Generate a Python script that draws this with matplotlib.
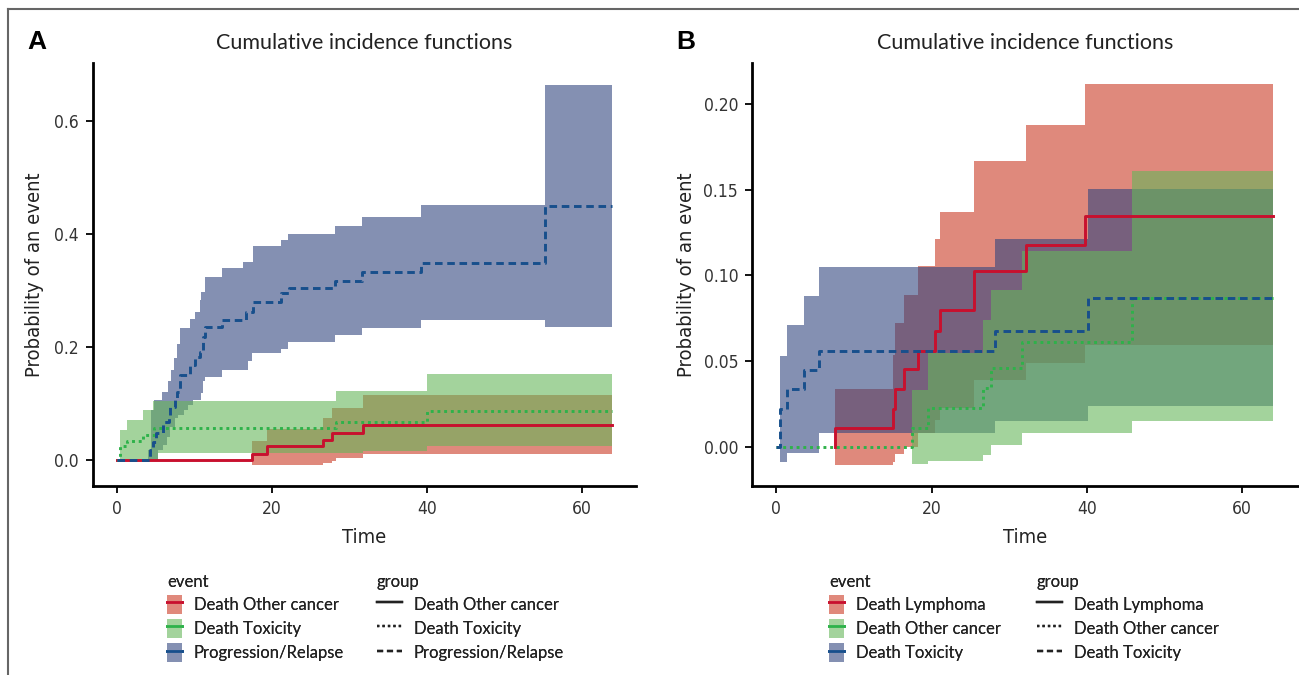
import numpy as np
import matplotlib.pyplot as plt
from matplotlib.patches import Patch
from matplotlib.lines import Line2D

# ---- panel A : Death Other cancer / Death Toxicity / Progression-Relapse ----
a_red_t = [0, 17.4, 19.4, 26.6, 27.7, 31.7, 63.9]
a_red_p = [0, 0.011, 0.024, 0.035, 0.048, 0.062, 0.062]
a_red_band_t = [17.4, 19.4, 26.6, 27.7, 28.3, 31.7, 63.9]
a_red_lo = [-0.009, -0.008, -0.006, -0.002, 0.004, 0.010, 0.010]
a_red_hi = [0.034, 0.054, 0.074, 0.092, 0.092, 0.115, 0.115]

a_grn_t = [0, 0.4, 1.25, 3.4, 4.8, 28.3, 40.0, 63.9]
a_grn_p = [0, 0.024, 0.034, 0.044, 0.056, 0.068, 0.087, 0.087]
a_grn_band_t = [0.4, 1.25, 3.4, 4.7, 5.3, 28.3, 31.7, 40.0, 63.9]
a_grn_lo = [0, 0, 0, 0, 0.012, 0.012, 0.016, 0.025, 0.025]
a_grn_hi = [0.053, 0.071, 0.088, 0.105, 0.105, 0.122, 0.122, 0.153, 0.153]

a_blu_t = [0, 4.3, 4.6, 5.0, 6.0, 6.7, 6.8, 7.5, 7.7, 8.1, 9.4, 10.1, 10.7,
           11.1, 11.4, 13.5, 16.7, 17.6, 21.2, 22.2, 28.2, 31.6, 39.2, 55.2, 63.9]
a_blu_p = [0, 0.018, 0.032, 0.047, 0.068, 0.077, 0.094, 0.106, 0.121, 0.150, 0.168, 0.183, 0.192,
           0.218, 0.235, 0.248, 0.262, 0.280, 0.295, 0.304, 0.316, 0.332, 0.348, 0.450, 0.450]
a_blu_hi_t = [4.0, 4.35, 4.8, 5.8, 6.6, 7.0, 7.3, 7.7, 8.1, 9.4, 10.1, 10.7, 10.9, 11.4,
              13.5, 16.3, 17.6, 21.2, 22.1, 28.2, 31.6, 39.2, 55.2, 63.9]
a_blu_hi = [0.018, 0.088, 0.106, 0.121, 0.139, 0.160, 0.180, 0.206, 0.233, 0.249, 0.262, 0.283, 0.298, 0.324,
            0.339, 0.350, 0.378, 0.389, 0.400, 0.415, 0.430, 0.452, 0.663, 0.663]
a_blu_lo_t = [4.0, 5.3, 6.0, 6.4, 6.8, 7.5, 7.9, 8.6, 9.2, 9.8, 10.9, 11.1, 11.4, 13.5,
              16.9, 17.4, 21.2, 22.1, 28.2, 31.6, 39.2, 55.2, 63.9]
a_blu_lo = [0, 0.018, 0.027, 0.041, 0.059, 0.074, 0.080, 0.088, 0.097, 0.106, 0.118, 0.139, 0.147, 0.159,
            0.176, 0.189, 0.197, 0.209, 0.221, 0.233, 0.247, 0.235, 0.235]

a_events = ['Death Other cancer', 'Death Toxicity', 'Progression/Relapse']

# ---- panel B : Death Lymphoma / Death Other cancer / Death Toxicity ----
b_red_t = [7.6, 7.6, 15.0, 15.3, 16.4, 18.3, 20.4, 21.1, 25.5, 32.2, 39.7, 63.9]
b_red_p = [0, 0.0107, 0.0218, 0.0335, 0.0454, 0.0559, 0.0677, 0.0798, 0.1025, 0.1177, 0.1348, 0.1348]
b_red_band_t = [7.6, 15.0, 15.3, 16.4, 18.3, 20.4, 21.1, 25.5, 32.2, 39.7, 63.9]
b_red_lo = [-0.011, -0.009, -0.0043, 0.0, 0.0078, 0.0156, 0.0224, 0.039, 0.0487, 0.0593, 0.0593]
b_red_hi = [0.0335, 0.0535, 0.072, 0.0887, 0.1056, 0.1212, 0.1368, 0.1667, 0.1875, 0.2115, 0.2115]

b_grn_t = [0, 17.5, 19.6, 26.6, 27.7, 31.6, 45.8, 63.9]
b_grn_p = [0, 0.0107, 0.0224, 0.034, 0.046, 0.061, 0.0866, 0.0866]
b_grn_band_t = [17.5, 19.5, 26.6, 27.7, 31.6, 45.8, 63.9]
b_grn_lo = [-0.010, -0.0083, -0.0049, 0.001, 0.0078, 0.015, 0.015]
b_grn_hi = [0.0331, 0.0545, 0.074, 0.0914, 0.1144, 0.161, 0.161]

b_blu_t = [0, 0.5, 1.4, 3.6, 5.5, 28.2, 40.2, 63.9]
b_blu_p = [0, 0.0218, 0.0335, 0.0447, 0.0558, 0.0677, 0.0866, 0.0866]
b_blu_band_t = [0.5, 1.4, 3.6, 5.5, 28.2, 40.2, 63.9]
b_blu_lo = [-0.009, -0.004, -0.004, 0.0078, 0.0152, 0.0237, 0.0237]
b_blu_hi = [0.0529, 0.071, 0.0881, 0.1047, 0.121, 0.1504, 0.1504]

b_events = ['Death Lymphoma', 'Death Other cancer', 'Death Toxicity']

# colours
line_cols = ['#c8102e', '#2eb24a', '#174f8c']
fill_cols = ['#cb3a25', '#66b65a', '#32467f']
key_cols = ['#e0897c', '#a3d39c', '#8490b2']   # how the fills look on white
styles = ['-', (0, (1, 1.3)), (0, (2.6, 1.6))]

plt.rcParams['font.family'] = ['Lato', 'DejaVu Sans']
cond = dict(family='DejaVu Sans', stretch='condensed')


def steps(t, v):
    t = np.asarray(t, float)
    v = np.asarray(v, float)
    return np.repeat(t, 2)[1:], np.repeat(v, 2)[:-1]


def band(ax, t_lo, lo, t_hi, hi, col):
    xh, yh = steps(t_hi, hi)
    xl, yl = steps(t_lo, lo)
    ax.fill(np.r_[xh, xl[::-1]], np.r_[yh, yl[::-1]], color=col, alpha=0.6, lw=0)


def style_axes(ax, yticks, fmt):
    for s in ['top', 'right']:
        ax.spines[s].set_visible(False)
    for s in ['left', 'bottom']:
        ax.spines[s].set_linewidth(2)
    ax.tick_params(length=5, width=1.3, labelsize=12.5, pad=5, labelcolor='#333333')
    ax.set_xticks([0, 20, 40, 60])
    ax.set_yticks(yticks)
    ax.set_yticklabels([fmt.format(v) for v in yticks])
    for lab in ax.get_xticklabels() + ax.get_yticklabels():
        lab.set_family('DejaVu Sans')
        lab.set_stretch('condensed')
        lab.set_fontweight('light')
    ax.set_xlabel('Time', fontsize=14.5, color='#222222', **cond)
    ax.set_ylabel('Probability of an event', fontsize=14.5, color='#222222', **cond)
    ax.xaxis.set_label_coords(0.5, -0.1)


fig = plt.figure(figsize=(12.99, 6.75), dpi=100)
axA = fig.add_axes([0.0716, 0.28, 0.418, 0.627])
axB = fig.add_axes([0.579, 0.28, 0.421, 0.627])

# panel A
band(axA, a_red_band_t, a_red_lo, a_red_band_t, a_red_hi, fill_cols[0])
band(axA, a_blu_lo_t, a_blu_lo, a_blu_hi_t, a_blu_hi, fill_cols[2])
band(axA, a_grn_band_t, a_grn_lo, a_grn_band_t, a_grn_hi, fill_cols[1])
for t, p, c, ls in [(a_red_t, a_red_p, line_cols[0], styles[0]),
                    (a_grn_t, a_grn_p, line_cols[1], styles[1]),
                    (a_blu_t, a_blu_p, line_cols[2], styles[2])]:
    x, y = steps(t, p)
    axA.plot(x, y, color=c, ls=ls, lw=2.1)
axA.set_xlim(-3.1, 67)
axA.set_ylim(-0.046, 0.703)
style_axes(axA, [0.0, 0.2, 0.4, 0.6], '{:.1f}')
axA.yaxis.set_label_coords(-0.09, 0.5)

# panel B
band(axB, b_red_band_t, b_red_lo, b_red_band_t, b_red_hi, fill_cols[0])
band(axB, b_blu_band_t, b_blu_lo, b_blu_band_t, b_blu_hi, fill_cols[2])
band(axB, b_grn_band_t, b_grn_lo, b_grn_band_t, b_grn_hi, fill_cols[1])
for t, p, c, ls in [(b_red_t, b_red_p, line_cols[0], styles[0]),
                    (b_grn_t, b_grn_p, line_cols[1], styles[1]),
                    (b_blu_t, b_blu_p, line_cols[2], styles[2])]:
    x, y = steps(t, p)
    axB.plot(x, y, color=c, ls=ls, lw=2.1)
axB.set_xlim(-3.1, 67.3)
axB.set_ylim(-0.023, 0.224)
style_axes(axB, [0.0, 0.05, 0.10, 0.15, 0.20], '{:.2f}')
axB.yaxis.set_label_coords(-0.103, 0.5)

# titles and panel letters
for ax, letter, lx in [(axA, 'A', 37 / 1299), (axB, 'B', 686 / 1299)]:
    pos = ax.get_position()
    fig.text((pos.x0 + pos.x1) / 2, 1 - 43 / 675, 'Cumulative incidence functions',
             ha='center', va='center', fontsize=15.5, color='#222222')
    fig.text(lx, 1 - 42 / 675, letter, ha='center', va='center', fontsize=19,
             fontweight='bold', family=['Liberation Sans', 'DejaVu Sans'])

# legends
for events, ex, gx in [(a_events, 168, 378), (b_events, 830, 1038)]:
    ev_handles = [(Patch(facecolor=k, lw=0), Line2D([], [], color=c, lw=2.0))
                  for k, c in zip(key_cols, line_cols)]
    gr_handles = [Line2D([], [], color='#222222', ls=ls, lw=1.7) for ls in styles]
    for handles, x0, title in [(ev_handles, ex, 'event'), (gr_handles, gx, 'group')]:
        leg = fig.legend(handles, events, title=title, loc='upper left',
                         bbox_to_anchor=(x0 / 1299 - 0.006, 1 - 567 / 675),
                         frameon=False, fontsize=12, title_fontsize=12,
                         alignment='left', handlelength=0.9 if title == 'event' else 1.5,
                         handleheight=1.4, handletextpad=0.7, labelspacing=0.3,
                         borderaxespad=0)
        leg.get_title().set_color('#222222')
        for txt in leg.get_texts():
            txt.set_color('#222222')
        fig.add_artist(leg)

# frame lines at top and left
fig.add_artist(Line2D([8 / 1299, 1], [1 - 9 / 675, 1 - 9 / 675], color='#666666', lw=1.5))
fig.add_artist(Line2D([8 / 1299, 8 / 1299], [0, 1 - 9 / 675], color='#666666', lw=1.5))

fig.savefig('out.png', dpi=100)
